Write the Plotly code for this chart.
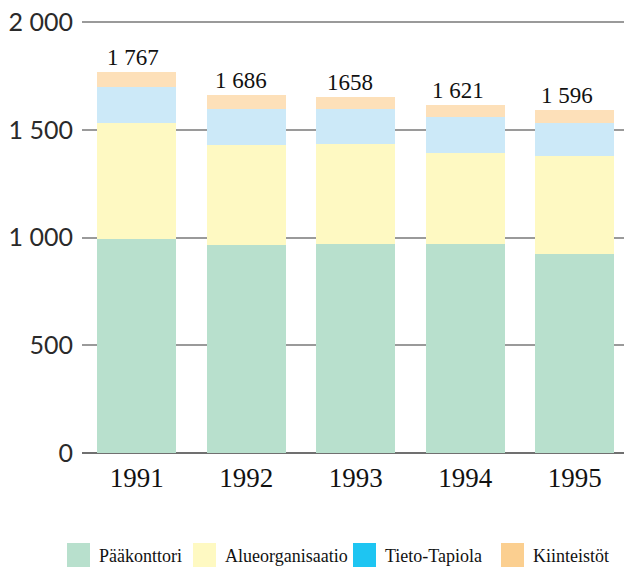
import plotly.graph_objects as go

years = ["1991", "1992", "1993", "1994", "1995"]
series_names = ["Pääkonttori", "Alueorganisaatio", "Tieto-Tapiola", "Kiinteistöt"]
paakonttori = [991, 963, 968, 968, 923]
alueorganisaatio = [539, 464, 464, 426, 453]
tieto_tapiola = [167, 168, 163, 167, 157]
kiinteistot = [70, 64, 59, 56, 59]
total_labels = ["1 767", "1 686", "1658", "1 621", "1 596"]
y_ticks = [0, 500, 1000, 1500, 2000]
y_tick_labels = ["0", "500", "1 000", "1 500", "2 000"]

bar_colors = ["#b8e0cd", "#fef9c2", "#cce9f8", "#fde0b9"]
legend_colors = ["#b8e0cd", "#fef9c2", "#1ec5f2", "#fbcf90"]

W, H = 624, 567
ML, MR, MT, MB = 82, 0, 18, 114
pw, ph = W - ML - MR, H - MT - MB

fig = go.Figure()
for name, vals, col in zip(series_names,
                           [paakonttori, alueorganisaatio, tieto_tapiola, kiinteistot],
                           bar_colors):
    fig.add_trace(go.Bar(x=years, y=vals, name=name, marker=dict(color=col, line=dict(width=0)),
                         showlegend=False, hoverinfo="skip"))

totals = [a + b + c + d for a, b, c, d in zip(paakonttori, alueorganisaatio, tieto_tapiola, kiinteistot)]
for i, (t, lab) in enumerate(zip(totals, total_labels)):
    fig.add_annotation(x=i, y=t, xref="x", yref="y", text=lab, showarrow=False,
                       yanchor="bottom", yshift=0, xshift=-4 - i,
                       font=dict(family="Liberation Serif", size=23, color="#111"))

# manual legend
def px_x(p):
    return (p - ML) / pw

def px_y(p):
    return (H - MB - p) / ph

sw_x = [67, 193, 353, 501]
for name, col, sx in zip(series_names, legend_colors, sw_x):
    fig.add_shape(type="rect", xref="paper", yref="paper",
                  x0=px_x(sx), x1=px_x(sx + 23), y0=px_y(567), y1=px_y(543),
                  fillcolor=col, line=dict(width=0))
    fig.add_annotation(xref="paper", yref="paper", x=px_x(sx + 30), y=px_y(556),
                       text=name, showarrow=False, xanchor="left", yanchor="middle",
                       font=dict(family="Liberation Serif", size=18, color="#111"))

fig.update_layout(
    width=W, height=H,
    margin=dict(l=ML, r=MR, t=MT, b=MB),
    paper_bgcolor="white", plot_bgcolor="white",
    barmode="stack", bargap=0.28,
    showlegend=False,
    xaxis=dict(type="category", range=[-0.5, 4.45], showgrid=False, showline=False, ticks="",
               tickfont=dict(family="Liberation Serif", size=27, color="#111"),
               ticklabelstandoff=6),
    yaxis=dict(range=[0, 2018.56], tickvals=y_ticks, ticktext=y_tick_labels,
               showgrid=True, gridcolor="#9a9a9a", gridwidth=1.5,
               zeroline=True, zerolinecolor="#707070", zerolinewidth=2,
               showline=False, ticks="",
               tickfont=dict(family="Lato", size=25, color="#2a2a2a"),
               ticklabelstandoff=8),
)

fig.write_html("out.html", config={"displayModeBar": False},
               post_script="document.body.style.margin='0';document.body.style.padding='0';")
